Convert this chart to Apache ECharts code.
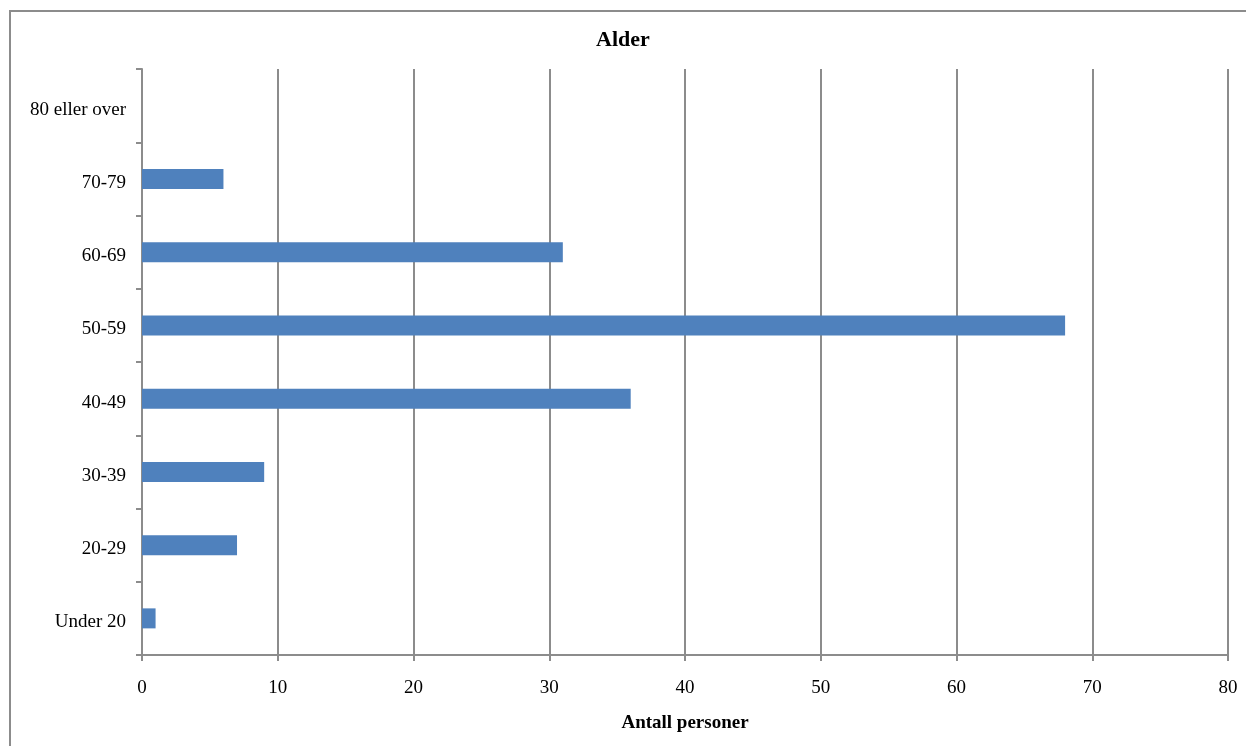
<!DOCTYPE html>
<html><head><meta charset="utf-8">
<script src="https://cdn.jsdelivr.net/npm/echarts@6/dist/echarts.min.js"></script>
<style>
html,body{margin:0;padding:0;background:#fff;overflow:hidden;}
#frame{position:absolute;left:9px;top:10px;width:1260px;height:760px;border:2px solid #8c8c8c;box-sizing:border-box;}
#c{position:absolute;left:0;top:0;width:1246px;height:746px;}
</style></head>
<body>
<div id="frame"></div>
<div id="c"></div>
<script>
const categories = ['Under 20','20-29','30-39','40-49','50-59','60-69','70-79','80 eller over'];
const values = [1,7,9,36,68,31,6,0];
const xTicks = {min:0, max:80, interval:10};
const titleText = 'Alder';
const xName = 'Antall personer';

const chart = echarts.init(document.getElementById('c'), null, {renderer:'canvas'});
const font = '"Liberation Serif","Times New Roman",serif';
chart.setOption({
  animation:false,
  title:{text:titleText,left:'center',top:24,textStyle:{fontFamily:font,fontWeight:'bold',fontSize:22,color:'#000'}},
  grid:{left:142,right:18,top:69,bottom:91,containLabel:false},
  xAxis:{type:'value',min:xTicks.min,max:xTicks.max,interval:xTicks.interval,
    name:xName,nameLocation:'middle',nameGap:59,
    nameTextStyle:{fontFamily:font,fontWeight:'bold',fontSize:19,color:'#000'},
    axisLine:{show:true,lineStyle:{color:'#8c8c8c',width:2}},
    axisTick:{show:true,length:6,lineStyle:{color:'#8c8c8c',width:2}},
    axisLabel:{fontFamily:font,fontSize:19,color:'#000',margin:24},
    splitLine:{show:true,lineStyle:{color:'#8c8c8c',width:2}}},
  yAxis:{type:'category',data:categories,
    axisLine:{show:true,lineStyle:{color:'#8c8c8c',width:2}},
    axisTick:{show:true,length:6,alignWithLabel:false,lineStyle:{color:'#8c8c8c',width:2}},
    axisLabel:{margin:16,formatter:v=>'{a|'+v+'}',
      rich:{a:{fontFamily:font,fontSize:19,color:'#000',padding:[8,0,0,0]}}}},
  series:[{type:'bar',data:values,barWidth:20,itemStyle:{color:'#4f81bd'}}]
});
</script>
</body></html>
